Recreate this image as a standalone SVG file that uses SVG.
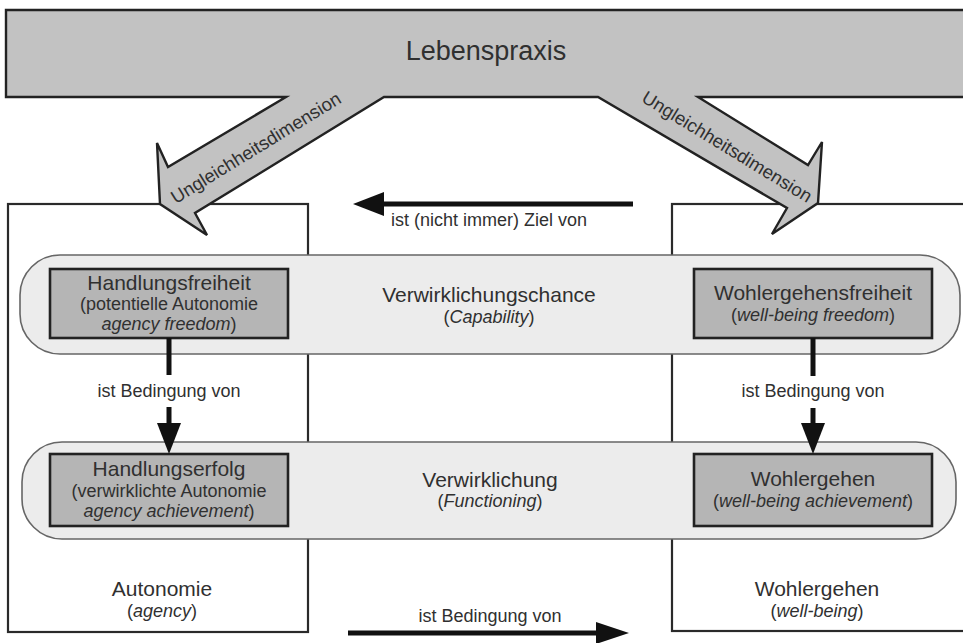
<svg xmlns="http://www.w3.org/2000/svg" width="963" height="643" viewBox="0 0 963 643">
<style>
text{font-family:"Liberation Sans",Arial,sans-serif;fill:#303030;text-anchor:middle}
.t{font-size:21px}
.s{font-size:18px}
.r{font-size:18.5px}
.i{font-style:italic}
.outer{fill:#fff;stroke:#2a2a2a;stroke-width:2.2}
.band{fill:#ececec;stroke:#666;stroke-width:1.6}
.box{fill:#b5b5b5;stroke:#222;stroke-width:2.6}
.shaft{stroke:#111;stroke-width:5;fill:none}
.head{fill:#111}
</style>
<rect width="963" height="643" fill="#fff"/>
<g id="autonomie-frame"><rect class="outer" x="8" y="204" width="300" height="428"/></g>
<g id="wohlergehen-frame"><rect class="outer" x="672" y="204" width="320" height="427"/></g>
<g id="band-capability"><rect class="band" x="20" y="255" width="940" height="99" rx="40" ry="40"/>
<text class="t" x="489" y="302">Verwirklichungschance</text>
<text class="s" x="489" y="323">(<tspan class="i">Capability</tspan>)</text></g>
<g id="band-functioning"><rect class="band" x="22" y="442" width="934" height="97" rx="40" ry="40"/>
<text class="t" x="490" y="487">Verwirklichung</text>
<text class="s" x="490" y="507">(<tspan class="i">Functioning</tspan>)</text></g>
<g id="lebenspraxis">
<path d="M6 10 L975 10 L975 97 L698 97 L808 165 L822 142 L818 203 L772 234 L787 208 L598 97 L384 97 L195 213 L207 235 L160 204 L157 143 L168 167 L286 97 L6 97 Z" fill="#c2c2c2" stroke="#222" stroke-width="2.4" stroke-linejoin="miter"/>
<text x="486" y="60" style="font-size:27px">Lebenspraxis</text>
<text class="r" x="0" y="0" transform="translate(256,148) rotate(-31.5)" dy="6">Ungleichheitsdimension</text>
<text class="r" x="0" y="0" transform="translate(727,147) rotate(31.5)" dy="6">Ungleichheitsdimension</text>
</g>
<g id="handlungsfreiheit"><rect class="box" x="50" y="269" width="238" height="69"/>
<text class="t" x="169" y="290">Handlungsfreiheit</text>
<text class="s" x="169" y="310">(potentielle Autonomie</text>
<text class="s" x="169" y="330"><tspan class="i">agency freedom</tspan>)</text></g>
<g id="wohlergehensfreiheit"><rect class="box" x="694" y="269" width="238" height="69"/>
<text class="t" x="813" y="300">Wohlergehensfreiheit</text>
<text class="s" x="813" y="321">(<tspan class="i">well-being freedom</tspan>)</text></g>
<g id="handlungserfolg"><rect class="box" x="50" y="454" width="238" height="72"/>
<text class="t" x="169" y="476">Handlungserfolg</text>
<text class="s" x="169" y="497">(verwirklichte Autonomie</text>
<text class="s" x="169" y="517"><tspan class="i">agency achievement</tspan>)</text></g>
<g id="wohlergehen-achievement"><rect class="box" x="694" y="454" width="238" height="72"/>
<text class="t" x="813" y="486">Wohlergehen</text>
<text class="s" x="813" y="507">(<tspan class="i">well-being achievement</tspan>)</text></g>
<g id="autonomie-label">
<text class="t" x="162" y="596">Autonomie</text>
<text class="s" x="162" y="617">(<tspan class="i">agency</tspan>)</text></g>
<g id="wohlergehen-label">
<text class="t" x="817" y="596">Wohlergehen</text>
<text class="s" x="817" y="617">(<tspan class="i">well-being</tspan>)</text></g>
<g id="connectors">
<line class="shaft" x1="380" y1="204" x2="633" y2="204"/>
<polygon class="head" points="353,204 384,192 384,216"/>
<text class="s" x="489" y="226">ist (nicht immer) Ziel von</text>
<line class="shaft" x1="169" y1="338" x2="169" y2="375"/>
<line class="shaft" x1="169" y1="407" x2="169" y2="426"/>
<polygon class="head" points="157,423 181,423 169,454"/>
<text class="s" x="169" y="397">ist Bedingung von</text>
<line class="shaft" x1="813" y1="338" x2="813" y2="376"/>
<line class="shaft" x1="813" y1="408" x2="813" y2="426"/>
<polygon class="head" points="801,423 825,423 813,454"/>
<text class="s" x="813" y="397">ist Bedingung von</text>
<line class="shaft" x1="348" y1="633" x2="600" y2="633"/>
<polygon class="head" points="596,622 629,633 596,644"/>
<text class="s" x="490" y="622">ist Bedingung von</text>
</g>
</svg>
